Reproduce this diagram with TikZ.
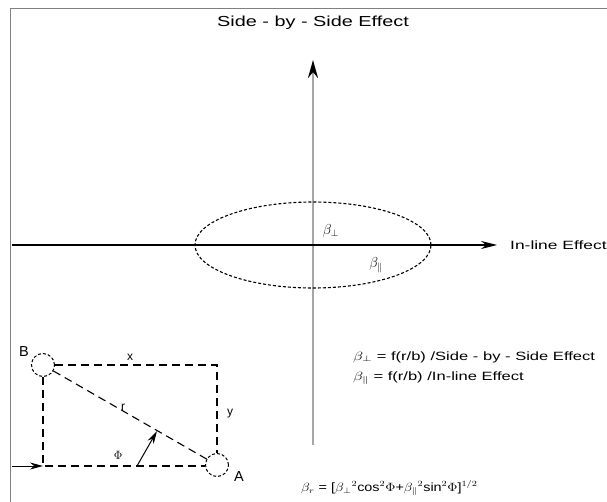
\documentclass[tikz,border=0pt]{standalone}
\usepackage{fontspec}
\setmainfont{Liberation Sans}
\usepackage{graphicx}
\usetikzlibrary{arrows.meta,shapes.geometric}
\newcommand{\widetxt}[2][1.35]{\scalebox{#1}[1]{#2}}
\tikzset{
  lbl/.style={inner sep=0pt, font=\fontsize{12}{14}\selectfont},
  bigtxt/.style={inner sep=0pt, font=\fontsize{14.5}{16}\selectfont},
  dsh/.style={dash pattern=on 8pt off 5pt, line width=1.1pt},
  pt/.style={circle, draw, densely dashed, line width=1pt, minimum size=23pt, inner sep=0pt},
  tip/.style={-{Stealth[length=13pt,width=7pt]}},
}
\begin{document}
\begin{tikzpicture}[x=1pt,y=-1pt]
\useasboundingbox (0,0) rectangle (607,502);
% frame
\draw[black!50, line width=1.8pt] (10.5,502) -- (10.5,8.5) -- (607,8.5);
% title
\node[bigtxt] (title) at (313,23) {\widetxt[1.37]{Side - by - Side Effect}};
% vertical axis
\coordinate (vbot) at (313,445);
\coordinate (vtop) at (313,60);
\draw[black!35, line width=2.4pt, -{Stealth[length=18pt,width=10pt,color=black]}] (vbot) -- (vtop);
% horizontal axis
\coordinate (hl) at (12,245);
\coordinate (hr) at (497,245);
\draw[line width=1.3pt, -{Stealth[length=16pt,width=8pt]}] (hl) -- (hr);
\node[lbl, anchor=west] (inline) at (510,245) {\widetxt[1.45]{In-line Effect}};
% ellipse
\node[draw, ellipse, densely dashed, line width=1.1pt, minimum width=236pt, minimum height=86pt, inner sep=0pt] (ell) at (313,245) {};
\node[lbl, font=\fontsize{14}{16}\selectfont] (bperp) at (331,231) {$\beta_{\perp}$};
\node[lbl, font=\fontsize{14}{16}\selectfont] (bpar) at (376,265) {$\beta_{\parallel}$};
% formulas
\node[lbl, anchor=west] (f1) at (353,357) {\widetxt[1.38]{$\beta_{\perp}$ = f(r/b) /Side - by - Side Effect}};
\node[lbl, anchor=west] (f2) at (353,378) {\widetxt[1.38]{$\beta_{\parallel}$ = f(r/b) /In-line Effect}};
\node[lbl, anchor=west] (f3) at (301,488) {\widetxt[1.2]{$\beta_{r}$ = [$\beta_{\perp}{}^{2}$cos$^{2}\Phi$+$\beta_{\parallel}{}^{2}$sin$^{2}\Phi$]$^{1/2}$}};
% lower diagram
\node[pt] (B) at (43,365) {};
\node[pt] (A) at (217,465) {};
\node[bigtxt] (Blab) at (24,352) {B};
\node[bigtxt] (Alab) at (239,477) {A};
\coordinate (TR) at (217,365);
\coordinate (BL) at (43,466);
\coordinate (LS) at (12,466);
\draw[dsh] (B) -- (TR) -- (A);
\draw[dsh] (B) -- (BL) -- (A.west|-BL);
\draw[dsh] (B) -- (A);
\draw[line width=1pt, tip] (LS) -- (BL);
\coordinate (phi0) at (137,466);
\coordinate (phi1) at (157,431);
\draw[line width=1pt, tip] (phi0) -- (phi1);
\node[lbl] (xl) at (130,357) {x};
\node[lbl] (yl) at (230,414) {y};
\node[lbl] (rl) at (123,407) {r};
\node[lbl] (phil) at (118,455) {$\Phi$};
\end{tikzpicture}
\end{document}
